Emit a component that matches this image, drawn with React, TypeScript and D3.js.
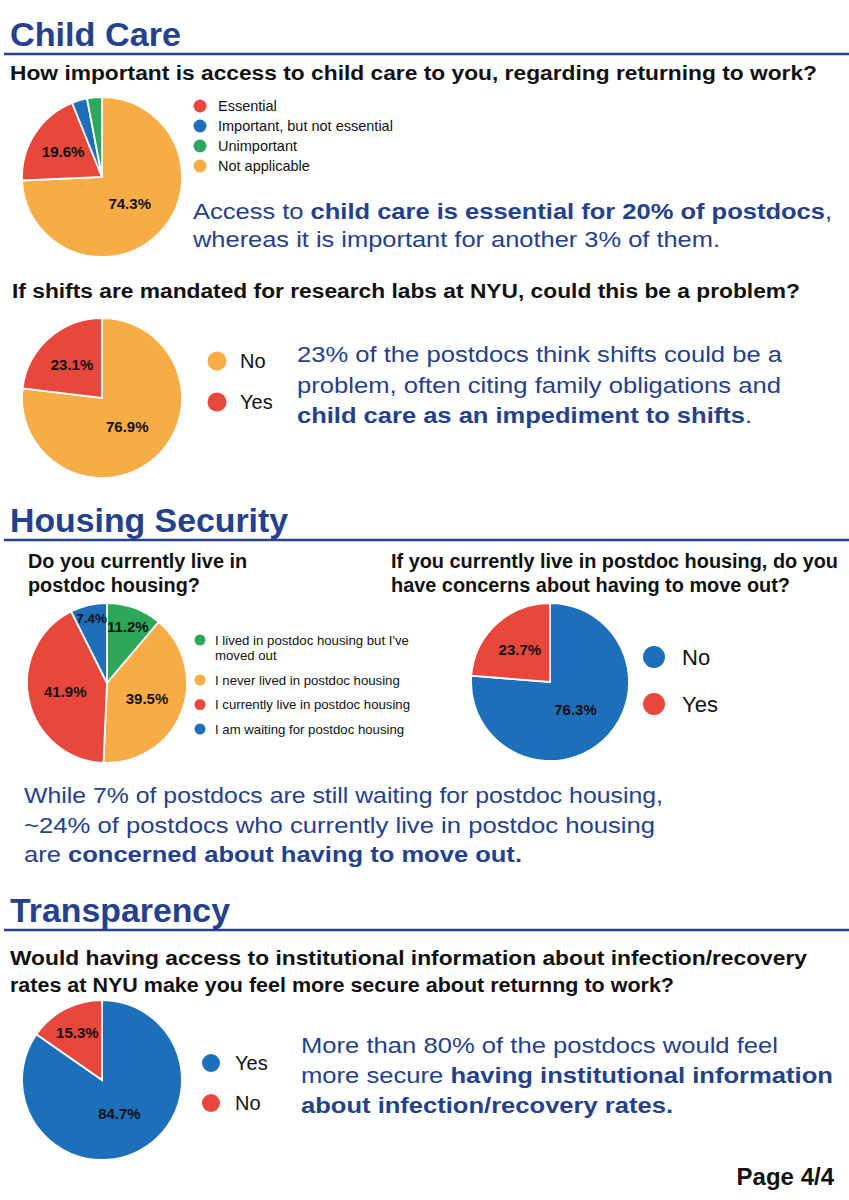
import React from "react";
import * as d3 from "d3";

// ---------- DATA ----------
const childCareLabels = ["Essential", "Important, but not essential", "Unimportant", "Not applicable"];
const childCareValues = [19.6, 3.1, 3.0, 74.3];
const childCareSliceOrder = [3, 0, 1, 2];

const shiftsLabels = ["No", "Yes"];
const shiftsValues = [76.9, 23.1];

const housingLabels = [
  ["I lived in postdoc housing but I've", "moved out"],
  ["I never lived in postdoc housing"],
  ["I currently live in postdoc housing"],
  ["I am waiting for postdoc housing"],
];
const housingValues = [11.2, 39.5, 41.9, 7.4];

const moveOutLabels = ["No", "Yes"];
const moveOutValues = [76.3, 23.7];

const transparencyLabels = ["Yes", "No"];
const transparencyValues = [84.7, 15.3];

// ---------- STYLE ----------
const ORANGE = "#F8AC45";
const RED = "#E8473C";
const BLUE = "#1E6FBA";
const GREEN = "#2DA85A";
const NAVY = "#25408C";
const FONT = "'Liberation Sans', Arial, Helvetica, sans-serif";

const childCareColors = [RED, BLUE, GREEN, ORANGE];
const shiftsColors = [ORANGE, RED];
const housingColors = [GREEN, ORANGE, RED, BLUE];
const moveOutColors = [BLUE, RED];
const transparencyColors = [BLUE, RED];

type PieProps = {
  cx: number;
  cy: number;
  r: number;
  values: number[];
  colors: string[];
  order?: number[];
};

function Pie({ cx, cy, r, values, colors, order }: PieProps) {
  const idx = order ?? values.map((_, i) => i);
  const data = idx.map((i) => ({ value: values[i], color: colors[i] }));
  const total = d3.sum(values);
  const arcs = d3
    .pie<{ value: number; color: string }>()
    .sort(null)
    .value((d) => d.value)(data);
  const arc = d3.arc<any>().innerRadius(0).outerRadius(r);
  const labelFrac = d3.scaleLinear().domain([0.07, 0.2, 0.8]).range([0.84, 0.57, 0.47]).clamp(true);
  return (
    <g transform={`translate(${cx},${cy})`}>
      {arcs.map((a, i) => (
        <path key={i} d={arc(a) || ""} fill={a.data.color} stroke="#fff" strokeWidth={1.8} />
      ))}
      {arcs.map((a, i) => {
        const f = a.data.value / total;
        if (f < 0.05) return null;
        const rr = r * labelFrac(f);
        const c = d3.arc<any>().innerRadius(rr).outerRadius(rr).centroid(a);
        return (
          <text
            key={"l" + i}
            x={c[0]}
            y={c[1]}
            textAnchor="middle"
            dominantBaseline="central"
            fontFamily={FONT}
            fontWeight="bold"
            fontSize={f < 0.1 ? 13.5 : 15}
            fill="#111"
          >
            {a.data.value.toFixed(1)}%
          </text>
        );
      })}
    </g>
  );
}

type LegendProps = {
  x: number;
  y: number;
  step: number;
  lineHeight?: number;
  labels: (string | string[])[];
  colors: string[];
  dotR: number;
  fontSize: number;
  textDx: number;
};

function Legend({ x, y, step, lineHeight = 0, labels, colors, dotR, fontSize, textDx }: LegendProps) {
  let cy = y;
  const items = labels.map((lab, i) => {
    const lines = Array.isArray(lab) ? lab : [lab];
    const g = (
      <g key={i}>
        <circle cx={x} cy={cy} r={dotR} fill={colors[i]} />
        {lines.map((ln, j) => (
          <text
            key={j}
            x={x + textDx}
            y={cy + j * lineHeight}
            dominantBaseline="central"
            fontFamily={FONT}
            fontSize={fontSize}
            fill="#111"
          >
            {ln}
          </text>
        ))}
      </g>
    );
    cy += step + (lines.length - 1) * lineHeight;
    return g;
  });
  return <g>{items}</g>;
}

function SectionTitle({ y, text, width }: { y: number; text: string; width: number }) {
  return (
    <g>
      <text x={10} y={y} fontFamily={FONT} fontWeight="bold" fontSize={33} fill={NAVY} textLength={width} lengthAdjust="spacingAndGlyphs">
        {text}
      </text>
      <line x1={4} x2={849} y1={y + 8} y2={y + 8} stroke={NAVY} strokeWidth={2.6} />
    </g>
  );
}

function Q({ x, y, text, width, size = 19.5 }: { x: number; y: number; text: string; width: number; size?: number }) {
  return (
    <text x={x} y={y} fontFamily={FONT} fontWeight="bold" fontSize={size} fill="#111" textLength={width} lengthAdjust="spacingAndGlyphs">
      {text}
    </text>
  );
}

type Seg = [string, boolean];
function Summary({ x, y, width, segs, size = 22 }: { x: number; y: number; width: number; segs: Seg[]; size?: number }) {
  return (
    <text x={x} y={y} fontFamily={FONT} fontSize={size} fill={NAVY} textLength={width} lengthAdjust="spacingAndGlyphs">
      {segs.map((s, i) => (
        <tspan key={i} fontWeight={s[1] ? "bold" : "normal"}>
          {s[0]}
        </tspan>
      ))}
    </text>
  );
}

export default function App() {
  return (
    <svg
      width={849}
      height={1200}
      viewBox="0 0 849 1200"
      style={{ position: "absolute", left: 0, top: 0, background: "#fff" }}
    >
      <rect width={849} height={1200} fill="#fff" />

      {/* ---------- CHILD CARE ---------- */}
      <SectionTitle y={46} text="Child Care" width={171} />
      <Q x={10} y={80} width={807} text="How important is access to child care to you, regarding returning to work?" />
      <Pie cx={102} cy={177} r={80} values={childCareValues} colors={childCareColors} order={childCareSliceOrder} />
      <Legend x={200} y={106} step={20} labels={childCareLabels} colors={childCareColors} dotR={6.5} fontSize={14.5} textDx={18} />
      <Summary x={193} y={219} width={639} segs={[["Access to ", false], ["child care is essential for 20% of postdocs", true], [",", false]]} />
      <Summary x={193} y={247} width={527} segs={[["whereas it is important for another 3% of them.", false]]} />

      {/* ---------- SHIFTS ---------- */}
      <Q x={12} y={298} width={788} text="If shifts are mandated for research labs at NYU, could this be a problem?" />
      <Pie cx={102} cy={398} r={80} values={shiftsValues} colors={shiftsColors} />
      <Legend x={217} y={361} step={41} labels={shiftsLabels} colors={shiftsColors} dotR={9.5} fontSize={20} textDx={23} />
      <Summary x={297} y={362} width={485} segs={[["23% of the postdocs think shifts could be a", false]]} />
      <Summary x={297} y={393} width={484} segs={[["problem, often citing family obligations and", false]]} />
      <Summary x={297} y={423} width={455} segs={[["child care as an impediment to shifts", true], [".", false]]} />

      {/* ---------- HOUSING ---------- */}
      <SectionTitle y={532} text="Housing Security" width={278} />
      <Q x={28} y={568} width={219} text="Do you currently live in" />
      <Q x={28} y={592} width={172} text="postdoc housing?" />
      <Q x={391} y={568} width={447} text="If you currently live in postdoc housing, do you" />
      <Q x={391} y={592} width={399} text="have concerns about having to move out?" />
      <Pie cx={107} cy={683} r={80} values={housingValues} colors={housingColors} />
      <Legend
        x={200}
        y={640}
        step={24.5}
        lineHeight={15.5}
        labels={housingLabels}
        colors={housingColors}
        dotR={5.5}
        fontSize={13.2}
        textDx={15}
      />
      <Pie cx={550} cy={682} r={79} values={moveOutValues} colors={moveOutColors} />
      <Legend x={654} y={657} step={47} labels={moveOutLabels} colors={moveOutColors} dotR={11} fontSize={22} textDx={28} />
      <Summary x={24} y={803} width={639} segs={[["While 7% of postdocs are still waiting for postdoc housing,", false]]} />
      <Summary x={24} y={833} width={631} segs={[["~24% of postdocs who currently live in postdoc housing", false]]} />
      <Summary x={24} y={862} width={498} segs={[["are ", false], ["concerned about having to move out.", true]]} />

      {/* ---------- TRANSPARENCY ---------- */}
      <SectionTitle y={922} text="Transparency" width={220} />
      <Q x={10} y={965} width={797} text="Would having access to institutional information about infection/recovery" />
      <Q x={10} y={992} width={664} text="rates at NYU make you feel more secure about returnng to work?" />
      <Pie cx={102} cy={1080} r={80} values={transparencyValues} colors={transparencyColors} />
      <Legend x={211} y={1063} step={40} labels={transparencyLabels} colors={transparencyColors} dotR={9} fontSize={20} textDx={24} />
      <Summary x={301} y={1053} width={477} segs={[["More than 80% of the postdocs would feel", false]]} />
      <Summary x={301} y={1083} width={532} segs={[["more secure ", false], ["having institutional information", true]]} />
      <Summary x={301} y={1113} width={372} segs={[["about infection/recovery rates.", true]]} />

      <text x={834} y={1185} textAnchor="end" fontFamily={FONT} fontWeight="bold" fontSize={24} fill="#111">
        Page 4/4
      </text>
    </svg>
  );
}
